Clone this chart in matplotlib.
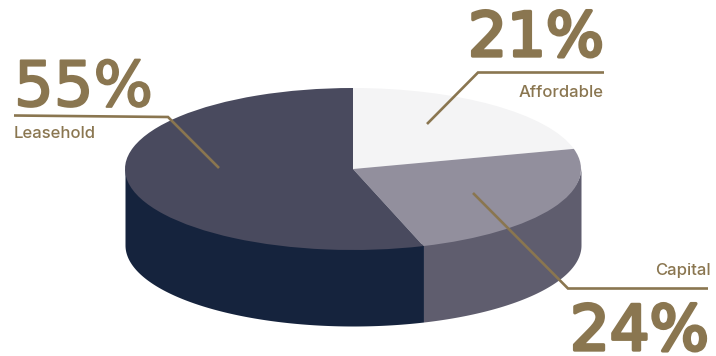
import numpy as np
import matplotlib
matplotlib.use("Agg")
import matplotlib.pyplot as plt
import matplotlib.patheffects as pe

# Slice data, clockwise from 12 o'clock
categories = ["Affordable", "Capital", "Leasehold"]
shares = [21, 24, 55]
top_colors = ["#F4F4F5", "#928F9D", "#494A5E"]
side_colors = ["#E0E0E2", "#5F5D6E", "#15233D"]

gold = "#8A7650"
W, H = 716, 356
depth = 76 / 81  # wall height in units of the squashed radius

fig = plt.figure(figsize=(W / 100, H / 100), dpi=100)

# Axes box is the top ellipse, so a unit pie gets squashed into it
ax = fig.add_axes([125 / W, (H - 250) / H, 456 / W, 162 / H])

# Side walls first, only the part of each slice on the front half
# (they run a little way up under the pie so no light seam shows)
edges = np.cumsum([0] + shares) * 3.6
for i in range(len(shares)):
    a0 = max(edges[i], 90)
    a1 = min(edges[i + 1], 270)
    if a1 <= a0:
        continue
    t = np.radians(np.linspace(a0, a1, 200))
    x = np.sin(t)
    y = np.cos(t)
    ax.fill_between(x, y + 0.03, y - depth, color=side_colors[i], linewidth=0, clip_on=False)

wedges, _ = ax.pie(shares, colors=top_colors, startangle=90, counterclock=False,
                   radius=1, wedgeprops={"linewidth": 0})
for w in wedges:
    w.set_clip_on(False)
ax.set_aspect("auto")
ax.set_xlim(-1, 1)
ax.set_ylim(-1, 1)
ax.axis("off")

# Overlay in pixel coordinates for the callouts
ov = fig.add_axes([0, 0, 1, 1])
ov.set_xlim(0, W)
ov.set_ylim(H, 0)
ov.axis("off")
ov.patch.set_alpha(0)

# Leader lines
ov.plot([14, 168, 219], [115.5, 117, 168], color=gold, lw=1.9, solid_capstyle="butt", solid_joinstyle="miter")
ov.plot([604, 478, 427], [72.5, 72.5, 124], color=gold, lw=1.9, solid_capstyle="butt", solid_joinstyle="miter")
ov.plot([708, 568, 473], [288.5, 288.5, 193], color=gold, lw=1.9, solid_capstyle="butt", solid_joinstyle="miter")

# Big percentages, DejaVu thickened with an outline of the same colour
thick = [pe.withStroke(linewidth=1.4, foreground=gold)]
thicker = [pe.withStroke(linewidth=2.4, foreground=gold)]
ov.text(14, 106, f"{shares[2]}%", family="DejaVu Sans", size=45, color=gold, ha="left", va="baseline", path_effects=thick)
ov.text(604, 56, f"{shares[0]}%", family="DejaVu Sans", size=44, color=gold, ha="right", va="baseline", path_effects=thicker)
ov.text(709, 350, f"{shares[1]}%", family="DejaVu Sans", size=45, color=gold, ha="right", va="baseline", path_effects=thicker)

# Category names
ov.text(14, 138, categories[2], family="Inter", size=12, weight="medium", color=gold, ha="left", va="baseline")
ov.text(604, 97, categories[0], family="Inter", size=12, weight="medium", color=gold, ha="right", va="baseline")
ov.text(711, 275, categories[1], family="Inter", size=12, weight="medium", color=gold, ha="right", va="baseline")

fig.savefig("out.png", dpi=100)
